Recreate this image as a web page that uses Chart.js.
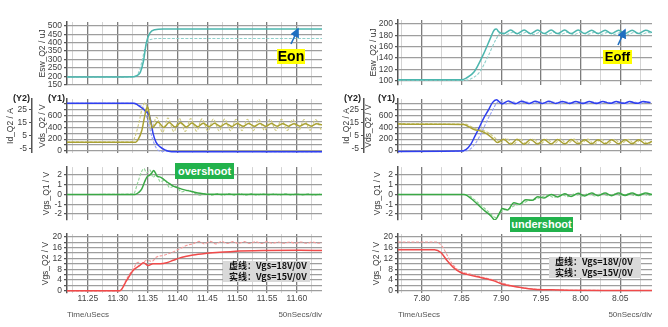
<!DOCTYPE html>
<html><head><meta charset="utf-8">
<script src="https://cdn.jsdelivr.net/npm/chart.js@4.4.1/dist/chart.umd.min.js"></script>
<style>
html,body{margin:0;padding:0;background:#fff;}
#wrap{position:relative;width:668px;height:327px;overflow:hidden;font-family:"Liberation Sans",Arial,sans-serif;background:#fff;}
canvas{position:absolute;}
.t{position:absolute;white-space:nowrap;}
.yl{font-weight:bold;font-size:9px;color:#222;}
.foot{font-size:8px;color:#555;top:310px;}
.tag{position:absolute;text-align:center;font-weight:bold;}
.leg{position:absolute;background:#d9d9d9;font-weight:bold;font-size:9px;line-height:10.5px;color:#111;padding-left:6px;box-sizing:border-box;font-family:"Noto Sans CJK SC","Liberation Sans",sans-serif;}
svg{position:absolute;left:0;top:0;}
</style></head><body><div id="wrap">
<canvas id="l1"></canvas><canvas id="l2"></canvas><canvas id="l3"></canvas><canvas id="l4"></canvas>
<canvas id="r1"></canvas><canvas id="r2"></canvas><canvas id="r3"></canvas><canvas id="r4"></canvas>

<div class="t yl" style="left:13px;top:93px;">(Y2)</div>
<div class="t yl" style="left:48px;top:93px;">(Y1)</div>
<div class="t yl" style="left:344px;top:93px;">(Y2)</div>
<div class="t yl" style="left:378px;top:93px;">(Y1)</div>

<div class="t foot" style="left:67px;">Time/uSecs</div>
<div class="t foot" style="right:346px;">50nSecs/div</div>
<div class="t foot" style="left:398px;">Time/uSecs</div>
<div class="t foot" style="right:16px;">50nSecs/div</div>

<div class="tag" style="left:277px;top:49px;width:28px;height:15px;background:#ffff00;font-size:14px;line-height:15px;color:#000;">Eon</div>
<div class="tag" style="left:603px;top:50px;width:29px;height:14px;background:#ffff00;font-size:13px;line-height:14px;color:#000;">Eoff</div>
<div class="tag" style="left:175px;top:163px;width:59px;height:16px;background:#22b24c;font-size:11px;line-height:16px;color:#fff;">overshoot</div>
<div class="tag" style="left:510px;top:217px;width:63px;height:15px;background:#22b24c;font-size:11px;line-height:15px;color:#fff;">undershoot</div>

<div class="leg" style="left:223px;top:261px;width:87px;height:21px;">虚线：Vgs=18V/0V<br>实线：Vgs=15V/0V</div>
<div class="leg" style="left:549px;top:257px;width:92px;height:21px;">虚线：Vgs=18V/0V<br>实线：Vgs=15V/0V</div>

<svg width="668" height="327" viewBox="0 0 668 327">
<defs><marker id="ah" markerWidth="6" markerHeight="6" refX="5" refY="3" orient="auto"><path d="M0,0 L6,3 L0,6 z" fill="#1f6fc0"/></marker></defs>
<line x1="291" y1="44" x2="298" y2="29" stroke="#1f6fc0" stroke-width="1.6" marker-end="url(#ah)"/>
<line x1="618" y1="45" x2="625" y2="30" stroke="#1f6fc0" stroke-width="1.6" marker-end="url(#ah)"/>
</svg>
</div>
<script>
// ---------------- Data: turn-on (left column) ----------------
const L_XMAJOR = [11.25, 11.30, 11.35, 11.40, 11.45, 11.50, 11.55, 11.60];
const L_XMINOR = [11.225, 11.275, 11.325, 11.375, 11.425, 11.475, 11.525, 11.575, 11.625];

const L_T_EON_S = [11.215, 11.327, 11.333, 11.338, 11.343, 11.348, 11.354, 11.362, 11.376, 11.642];
const L_V_EON_S = [195, 197, 205, 225, 289, 402, 458, 477, 481, 481];
const L_T_EON_D = [11.215, 11.322, 11.328, 11.334, 11.340, 11.345, 11.351, 11.359, 11.368, 11.642];
const L_V_EON_D = [195, 195, 200, 215, 280, 360, 408, 422, 425, 425];

const L_T_VDS_S = [11.215, 11.327, 11.333, 11.340, 11.348, 11.352, 11.356, 11.359, 11.364, 11.371, 11.379, 11.390, 11.642];
const L_V_VDS_S = [800, 800, 775, 725, 655, 615, 470, 300, 150, 70, 20, -10, -12];
const L_T_VDS_D = [11.215, 11.324, 11.334, 11.343, 11.351, 11.358, 11.365, 11.373, 11.642];
const L_V_VDS_D = [800, 800, 770, 720, 480, 210, 45, -5, -8];

const L_T_ID_S = [11.215, 11.330, 11.334, 11.340, 11.345, 11.348, 11.350, 11.354, 11.358, 11.367, 11.377, 11.386, 11.396, 11.405, 11.415, 11.424, 11.434, 11.443, 11.453, 11.462, 11.472, 11.481, 11.491, 11.500, 11.510, 11.519, 11.529, 11.538, 11.548, 11.557, 11.567, 11.576, 11.586, 11.595, 11.605, 11.614, 11.624, 11.633, 11.642];
const L_V_ID_S = [0, 0, 1.9, 8.5, 19.7, 25.5, 27, 18, 11, 15.5, 11.2, 15.0, 11.5, 14.8, 11.6, 14.6, 11.8, 14.5, 11.9, 14.4, 12.0, 14.3, 12.0, 14.3, 12.1, 14.2, 12.1, 14.2, 12.1, 14.2, 12.2, 14.1, 12.2, 14.1, 12.2, 14.1, 12.2, 14.1, 13.2];
const L_T_ID_D = [11.215, 11.322, 11.328, 11.335, 11.341, 11.346, 11.351, 11.356, 11.365, 11.375, 11.384, 11.394, 11.403, 11.413, 11.422, 11.432, 11.441, 11.451, 11.460, 11.470, 11.479, 11.489, 11.498, 11.508, 11.517, 11.527, 11.536, 11.546, 11.555, 11.565, 11.574, 11.584, 11.593, 11.603, 11.612, 11.622, 11.631, 11.641];
const L_V_ID_D = [0, 0, 3, 14, 26, 30, 22, 9, 19, 7.5, 18.5, 8, 18.2, 8.2, 18, 8.4, 17.8, 8.5, 17.7, 8.6, 17.6, 8.7, 17.5, 8.8, 17.5, 8.8, 17.4, 8.9, 17.4, 8.9, 17.4, 9, 17.3, 9, 17.3, 9, 17.3, 9.1];

const L_T_VG1_S = [11.215, 11.329, 11.335, 11.340, 11.345, 11.349, 11.353, 11.357, 11.360, 11.363, 11.366, 11.370, 11.376, 11.382, 11.388, 11.393, 11.400, 11.407, 11.415, 11.426, 11.438, 11.449, 11.642];
const L_V_VG1_S = [0, 0, 0.2, 0.55, 1.3, 1.8, 1.95, 2.2, 2.45, 2.2, 1.85, 1.8, 1.6, 1.3, 1.05, 0.85, 0.7, 0.55, 0.42, 0.27, 0.12, 0.03, 0];
const L_T_VG1_D = [11.215, 11.326, 11.334, 11.340, 11.344, 11.348, 11.354, 11.359, 11.365, 11.371, 11.379, 11.387, 11.396, 11.407, 11.418, 11.429, 11.438, 11.448, 11.457, 11.467, 11.476, 11.486, 11.495, 11.505, 11.514, 11.524, 11.533, 11.543, 11.552, 11.562, 11.571, 11.581, 11.590, 11.600, 11.609, 11.619, 11.628, 11.638];
const L_V_VG1_D = [0, 0.04, 1.31, 2.36, 2.65, 2.2, 2.5, 1.76, 2.05, 1.31, 1.46, 0.71, 0.87, 0.27, 0.42, 0.13, -0.08, 0.12, -0.1, 0.1, -0.1, 0.1, -0.09, 0.09, -0.09, 0.09, -0.08, 0.08, -0.08, 0.08, -0.08, 0.08, -0.08, 0.08, -0.07, 0.07, -0.07, 0.07];

const L_T_VG2_S = [11.215, 11.303, 11.315, 11.326, 11.337, 11.343, 11.351, 11.359, 11.371, 11.382, 11.393, 11.404, 11.415, 11.426, 11.449, 11.471, 11.493, 11.549, 11.605, 11.642];
const L_V_VG2_S = [0, 0, 3.9, 7.6, 9.4, 10.4, 9.4, 10.0, 10.0, 10.4, 11.3, 12.2, 12.8, 13.3, 13.9, 14.3, 14.6, 14.9, 15.0, 14.9];
const L_T_VG2_D = [11.215, 11.304, 11.315, 11.326, 11.334, 11.340, 11.348, 11.357, 11.365, 11.376, 11.387, 11.404, 11.415, 11.426, 11.436, 11.445, 11.455, 11.464, 11.474, 11.483, 11.493, 11.502, 11.512, 11.521, 11.531, 11.540, 11.550, 11.559, 11.569, 11.578, 11.588, 11.597, 11.607, 11.616, 11.626, 11.635, 11.642];
const L_V_VG2_D = [0, 0, 4.5, 8.2, 10.6, 10.0, 11.3, 10.9, 12.5, 13.1, 13.9, 15.6, 16.8, 17.4, 18.3, 17.4, 18.3, 17.4, 18.3, 17.5, 18.2, 17.5, 18.2, 17.5, 18.2, 17.5, 18.2, 17.6, 18.1, 17.6, 18.1, 17.6, 18.1, 17.6, 18.1, 17.6, 17.9];

// ---------------- Data: turn-off (right column) ----------------
const R_XMAJOR = [7.80, 7.85, 7.90, 7.95, 8.00, 8.05];
const R_XMINOR = [7.775, 7.825, 7.875, 7.925, 7.975, 8.025, 8.075];

const R_T_EOFF_S = [7.770, 7.850, 7.856, 7.866, 7.878, 7.887, 7.891, 7.894, 7.897, 7.903, 7.912, 7.920, 7.929, 7.937, 7.946, 7.954, 7.963, 7.971, 7.980, 7.988, 7.997, 8.005, 8.014, 8.022, 8.031, 8.039, 8.048, 8.056, 8.065, 8.073, 8.082, 8.090];
const R_V_EOFF_S = [102, 102, 105, 116, 148, 177, 189, 191, 186, 183, 189.5, 183, 189.5, 183, 189.5, 183.2, 189.3, 183.2, 189.3, 183.2, 189.3, 183.3, 189.2, 183.3, 189.2, 183.3, 189.2, 183.3, 189.2, 183.3, 189.2, 185];
const R_T_EOFF_D = [7.770, 7.853, 7.862, 7.872, 7.884, 7.893, 7.898, 7.901, 7.907, 7.915, 7.924, 7.932, 7.941, 7.949, 7.958, 7.966, 7.975, 7.983, 7.992, 8.000, 8.009, 8.017, 8.026, 8.034, 8.043, 8.051, 8.060, 8.068, 8.077, 8.085, 8.090];
const R_V_EOFF_D = [101, 101, 104, 114, 145, 172, 183, 185, 181.5, 185.5, 181.5, 185.5, 181.5, 185.5, 181.6, 185.4, 181.6, 185.4, 181.6, 185.4, 181.7, 185.3, 181.7, 185.3, 181.7, 185.3, 181.7, 185.3, 181.7, 185.3, 183.5];

const R_T_VDS_S = [7.770, 7.849, 7.856, 7.862, 7.866, 7.872, 7.878, 7.884, 7.889, 7.894, 7.901, 7.909, 7.918, 7.926, 7.935, 7.943, 7.952, 7.960, 7.969, 7.977, 7.986, 7.994, 8.003, 8.011, 8.020, 8.028, 8.037, 8.045, 8.054, 8.062, 8.071, 8.079, 8.088];
const R_V_VDS_S = [-5, 0, 30, 120, 225, 385, 553, 690, 811, 858, 790, 840, 792, 836, 795, 833, 796, 832, 797, 831, 798, 830, 798, 830, 798, 830, 799, 829, 799, 829, 799, 829, 812];
const R_T_VDS_D = [7.770, 7.853, 7.860, 7.866, 7.871, 7.877, 7.883, 7.889, 7.894, 7.899, 7.906, 7.914, 7.923, 7.931, 7.940, 7.948, 7.957, 7.965, 7.974, 7.982, 7.991, 7.999, 8.008, 8.016, 8.025, 8.033, 8.042, 8.050, 8.059, 8.067, 8.076, 8.084, 8.090];
const R_V_VDS_D = [-5, 0, 25, 100, 200, 360, 530, 680, 800, 840, 788, 826, 790, 824, 791, 823, 792, 822, 792, 822, 793, 821, 793, 821, 793, 821, 794, 820, 794, 820, 794, 820, 805];

const R_T_ID_S = [7.770, 7.800, 7.830, 7.853, 7.860, 7.866, 7.874, 7.882, 7.888, 7.891, 7.895, 7.903, 7.912, 7.920, 7.929, 7.937, 7.946, 7.954, 7.963, 7.971, 7.980, 7.988, 7.997, 8.005, 8.014, 8.022, 8.031, 8.039, 8.048, 8.056, 8.065, 8.073, 8.082, 8.090];
const R_V_ID_S = [13.8, 13.6, 13.6, 13.5, 11.5, 9.7, 8.5, 6.3, 3.5, 1.9, -0.3, 2.3, -1.6, 2.2, -1.5, 2.1, -1.4, 2.0, -1.4, 2.0, -1.3, 2.0, -1.3, 1.9, -1.3, 1.9, -1.3, 1.9, -1.2, 1.9, -1.2, 1.9, -1.2, 0.5];
const R_T_ID_D = [7.770, 7.800, 7.830, 7.855, 7.862, 7.869, 7.877, 7.885, 7.891, 7.895, 7.899, 7.907, 7.915, 7.924, 7.932, 7.941, 7.949, 7.958, 7.966, 7.975, 7.983, 7.992, 8.000, 8.009, 8.017, 8.026, 8.034, 8.043, 8.051, 8.060, 8.068, 8.077, 8.085, 8.090];
const R_V_ID_D = [14.2, 14.0, 13.9, 13.8, 12.0, 10.2, 9.0, 6.8, 3.8, 1.8, -0.8, 2.8, -1.8, 2.6, -1.7, 2.5, -1.6, 2.4, -1.6, 2.4, -1.5, 2.3, -1.5, 2.3, -1.5, 2.3, -1.4, 2.2, -1.4, 2.2, -1.4, 2.2, -1.4, 0.5];

const R_T_VG1_S = [7.770, 7.853, 7.866, 7.878, 7.887, 7.892, 7.899, 7.901, 7.908, 7.916, 7.923, 7.931, 7.939, 7.946, 7.954, 7.963, 7.971, 7.980, 7.988, 7.997, 8.005, 8.014, 8.022, 8.031, 8.039, 8.048, 8.056, 8.065, 8.073, 8.082, 8.090];
const R_V_VG1_S = [0, 0, -0.69, -1.59, -2.19, -2.6, -1.74, -1.44, -1.59, -0.84, -0.99, -0.54, -0.6, -0.24, -0.35, 0.0, -0.25, 0.08, -0.2, 0.12, -0.15, 0.15, -0.12, 0.15, -0.12, 0.15, -0.1, 0.15, -0.1, 0.14, 0.0];
const R_T_VG1_D = [7.770, 7.856, 7.866, 7.876, 7.886, 7.893, 7.898, 7.903, 7.910, 7.918, 7.926, 7.934, 7.942, 7.950, 7.958, 7.967, 7.975, 7.984, 7.992, 8.001, 8.009, 8.018, 8.026, 8.035, 8.043, 8.052, 8.060, 8.069, 8.077, 8.086, 8.090];
const R_V_VG1_D = [0, 0, -0.5, -1.2, -1.9, -2.35, -1.9, -1.6, -1.45, -1.1, -0.95, -0.65, -0.5, -0.3, -0.05, -0.3, 0.0, -0.22, 0.05, -0.18, 0.08, -0.15, 0.08, -0.13, 0.08, -0.12, 0.08, -0.12, 0.08, -0.1, 0];

const R_T_VG2_S = [7.770, 7.816, 7.824, 7.832, 7.840, 7.849, 7.857, 7.874, 7.891, 7.899, 7.912, 7.925, 7.941, 7.963, 7.984, 8.030, 8.090];
const R_V_VG2_S = [15.2, 15.2, 14.2, 11.1, 8.6, 6.8, 6.1, 4.9, 3.7, 2.7, 1.85, 1.2, 0.6, 0.37, 0.26, 0.15, 0.1];
const R_T_VG2_D = [7.770, 7.818, 7.826, 7.832, 7.838, 7.845, 7.852, 7.860, 7.874, 7.891, 7.905, 7.920, 7.940, 7.965, 8.000, 8.090];
const R_V_VG2_D = [18.1, 18.1, 16.3, 13.2, 10.1, 7.9, 6.8, 6.3, 5.2, 4.0, 2.6, 1.5, 0.7, 0.35, 0.2, 0.1];

// ---------------- Y tick lists ----------------
const L_Y1_TICKS = [150, 200, 250, 300, 350, 400, 450, 500];
const R_Y1_TICKS = [100, 120, 140, 160, 180, 200];
const VDS_GRID = [0, 100, 200, 300, 400, 500, 600, 700, 800];
const VDS_LABELS = [0, 200, 400, 600];
const ID_TICKS = [-5, 5, 15, 25];
const VG1_TICKS = [-2, -1, 0, 1, 2];
const VG2_GRID = [0, 2, 4, 6, 8, 10, 12, 14, 16, 18, 20];
const VG2_LABELS = [0, 4, 8, 12, 16, 20];

// ---------------- Styling / helpers ----------------
const FONT = "'Liberation Sans', Arial, sans-serif";
Chart.defaults.font.family = FONT;
const C = {
  eon: '#4cb6ae', eonL: '#8fd0cb',
  vds: '#2f3ff0', vdsL: '#97a2f5',
  id: '#a9a133', idL: '#cfca80',
  vg1: '#3aa845', vg1L: '#8fd295',
  vg2: '#f04a4a', vg2L: '#f59a9a'
};
function pts(t, v) { const n = Math.min(t.length, v.length); const a = []; for (let i = 0; i < n; i++) a.push({x: t[i], y: v[i]}); return a; }
function solid(t, v, col, axis) { return {data: pts(t, v), borderColor: col, borderWidth: 1.5, pointRadius: 0, fill: false, tension: 0.3, cubicInterpolationMode: 'monotone', yAxisID: axis || 'y', order: 1}; }
function dashed(t, v, col, axis) { return {data: pts(t, v), borderColor: col, borderWidth: 1.1, borderDash: [3, 1.5], pointRadius: 0, fill: false, tension: 0.3, cubicInterpolationMode: 'monotone', yAxisID: axis || 'y', order: 2}; }

function xScale(min, max, major, minor, showLabels, h) {
  const all = major.concat(minor).sort((a, b) => a - b);
  const isMaj = v => major.indexOf(v) >= 0;
  return {
    type: 'linear', min, max,
    afterBuildTicks: s => { s.ticks = all.map(v => ({value: v})); },
    afterFit: s => { s.height = h; },
    ticks: {display: showLabels, autoSkip: false, maxRotation: 0, padding: 1, color: '#444', font: {size: 8.5},
      callback: v => isMaj(v) ? v.toFixed(2) : ''},
    grid: {drawTicks: false, color: ctx => (ctx.tick && isMaj(ctx.tick.value)) ? '#7c7c7c' : '#d4d4d4',
      lineWidth: ctx => (ctx.tick && isMaj(ctx.tick.value)) ? 1.3 : 1},
    border: {display: false}
  };
}
function yScale(min, max, grid, labels, w, title, titlePad, extra) {
  const s = {
    type: 'linear', position: 'left', min, max,
    afterBuildTicks: sc => { sc.ticks = grid.map(v => ({value: v})); },
    afterFit: sc => { sc.width = w; },
    ticks: {autoSkip: false, padding: 2, color: '#404040', font: {size: 8.5},
      callback: v => labels.indexOf(v) >= 0 ? String(v) : ''},
    grid: {color: '#9e9e9e', lineWidth: 1.3, tickLength: 3, tickColor: '#555', drawTicks: true},
    border: {display: true, color: '#555', width: 1.5},
    title: {display: true, text: title, color: '#333', font: {size: 8.5}, padding: {top: titlePad, bottom: 0}}
  };
  return Object.assign(s, extra || {});
}
function makeChart(id, x, y, w, h, padTop, padRight, scales, datasets) {
  const c = document.getElementById(id);
  c.width = w; c.height = h;
  c.style.left = x + 'px'; c.style.top = y + 'px'; c.style.width = w + 'px'; c.style.height = h + 'px';
  new Chart(c, {type: 'line', data: {datasets},
    options: {responsive: false, maintainAspectRatio: false, animation: false, events: [],
      layout: {padding: {top: padTop, right: padRight, left: 0, bottom: 0}},
      plugins: {legend: {display: false}, tooltip: {enabled: false}},
      scales}});
}

// ---------------- Left column (turn-on) ----------------
const LX = (show, h) => xScale(11.215, 11.642, L_XMAJOR, L_XMINOR, show, h);
makeChart('l1', 0, 0, 334, 92, 22, 12,
  {x: LX(false, 4), y: yScale(148, 523, L_Y1_TICKS, L_Y1_TICKS, 67, 'Esw_Q2 / uJ', 38)},
  [dashed(L_T_EON_D, L_V_EON_D, C.eonL), solid(L_T_EON_S, L_V_EON_S, C.eon)]);

makeChart('l2', 0, 92, 334, 68, 3, 12,
  {x: LX(false, 3),
   y: yScale(-30, 870, VDS_GRID, VDS_LABELS, 35, 'Vds_Q2 / V', 5.4, {weight: 0}),
   y2: yScale(-8.2, 32.9, ID_TICKS, ID_TICKS, 32, 'Id_Q2 / A', 5.4,
     {weight: 1, grid: {drawOnChartArea: false, tickLength: 3, tickColor: '#555', drawTicks: true}})},
  [dashed(L_T_ID_D, L_V_ID_D, C.idL, 'y2'), dashed(L_T_VDS_D, L_V_VDS_D, C.vdsL, 'y'),
   solid(L_T_ID_S, L_V_ID_S, C.id, 'y2'), solid(L_T_VDS_S, L_V_VDS_S, C.vds, 'y')]);

makeChart('l3', 0, 160, 334, 67, 3, 12,
  {x: LX(false, 3), y: yScale(-2.6, 2.8, VG1_TICKS, VG1_TICKS, 67, 'Vgs_Q1 / V', 42)},
  [dashed(L_T_VG1_D, L_V_VG1_D, C.vg1L), solid(L_T_VG1_S, L_V_VG1_S, C.vg1)]);

makeChart('l4', 0, 227, 334, 100, 6, 12,
  {x: LX(true, 34), y: yScale(-0.8, 21, VG2_GRID, VG2_LABELS, 67, 'Vgs_Q2 / V', 41)},
  [dashed(L_T_VG2_D, L_V_VG2_D, C.vg2L), solid(L_T_VG2_S, L_V_VG2_S, C.vg2)]);

// ---------------- Right column (turn-off) ----------------
const RX = (show, h) => xScale(7.770, 8.090, R_XMAJOR, R_XMINOR, show, h);
makeChart('r1', 334, 0, 334, 92, 20, 16,
  {x: RX(false, 7), y: yScale(93, 207, R_Y1_TICKS, R_Y1_TICKS, 64, 'Esw_Q2 / uJ', 35)},
  [dashed(R_T_EOFF_D, R_V_EOFF_D, C.eonL), solid(R_T_EOFF_S, R_V_EOFF_S, C.eon)]);

makeChart('r2', 334, 92, 334, 68, 3, 16,
  {x: RX(false, 3),
   y: yScale(-30, 870, VDS_GRID, VDS_LABELS, 34, 'Vds_Q2 / V', 0, {weight: 0}),
   y2: yScale(-8.2, 32.9, ID_TICKS, ID_TICKS, 30, 'Id_Q2 / A', 7.4,
     {weight: 1, grid: {drawOnChartArea: false, tickLength: 3, tickColor: '#555', drawTicks: true}})},
  [dashed(R_T_ID_D, R_V_ID_D, C.idL, 'y2'), dashed(R_T_VDS_D, R_V_VDS_D, C.vdsL, 'y'),
   solid(R_T_ID_S, R_V_ID_S, C.id, 'y2'), solid(R_T_VDS_S, R_V_VDS_S, C.vds, 'y')]);

makeChart('r3', 334, 160, 334, 67, 3, 16,
  {x: RX(false, 3), y: yScale(-2.6, 2.8, VG1_TICKS, VG1_TICKS, 64, 'Vgs_Q1 / V', 39)},
  [dashed(R_T_VG1_D, R_V_VG1_D, C.vg1L), solid(R_T_VG1_S, R_V_VG1_S, C.vg1)]);

makeChart('r4', 334, 227, 334, 100, 6, 16,
  {x: RX(true, 34), y: yScale(-0.8, 21, VG2_GRID, VG2_LABELS, 64, 'Vgs_Q2 / V', 38)},
  [dashed(R_T_VG2_D, R_V_VG2_D, C.vg2L), solid(R_T_VG2_S, R_V_VG2_S, C.vg2)]);
</script>
</body></html>
